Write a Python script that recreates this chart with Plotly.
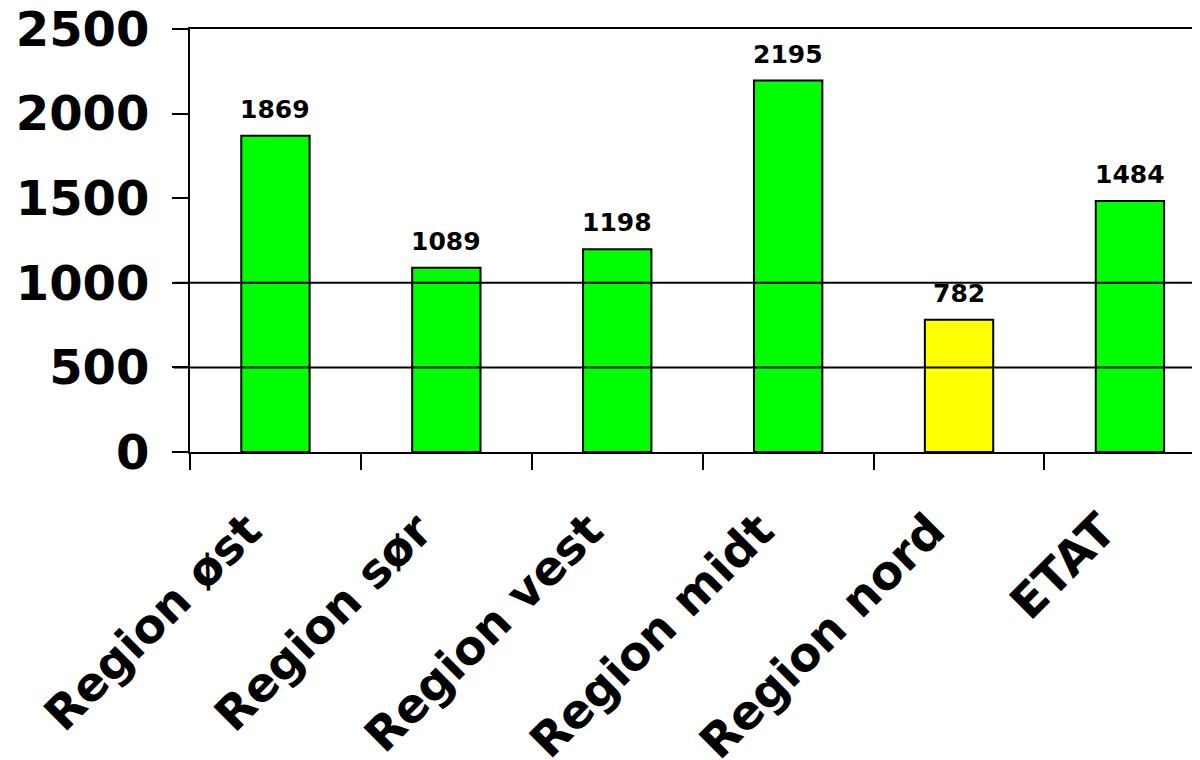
import plotly.graph_objects as go

categories = ["Region øst", "Region sør", "Region vest", "Region midt", "Region nord", "ETAT"]
values = [1869, 1089, 1198, 2195, 782, 1484]
bar_colors = ["#00FF00", "#00FF00", "#00FF00", "#00FF00", "#FFFF00", "#00FF00"]
y_ticks = [0, 500, 1000, 1500, 2000, 2500]
grid_values = [500, 1000]

FONT = "DejaVu Sans"

fig = go.Figure()
fig.add_trace(go.Bar(
    x=categories, y=values,
    marker=dict(color=bar_colors, line=dict(color="black", width=2)),
    width=0.4,
    hoverinfo="x+y",
))

for c, v in zip(categories, values):
    fig.add_annotation(x=c, y=v, text=f"<b>{v}</b>", showarrow=False,
                       yanchor="bottom", yshift=10,
                       font=dict(family=FONT, size=25, color="black"))

for g in grid_values:
    fig.add_shape(type="line", xref="paper", x0=-0.016, x1=1, yref="y", y0=g, y1=g,
                  line=dict(color="black", width=2), layer="above")

fig.update_layout(
    width=1192, height=752,
    margin=dict(l=182, r=0, t=21, b=308),
    plot_bgcolor="white", paper_bgcolor="white",
    showlegend=False,
    font=dict(family=FONT, color="black"),
    xaxis=dict(
        type="category",
        range=[-0.5, 5.41],
        automargin=False,
        tickson="boundaries",
        ticks="outside", ticklen=16, tickwidth=2, tickcolor="black",
        showline=True, linecolor="black", linewidth=2, mirror=True,
        showgrid=False,
        tickangle=-45,
        tickfont=dict(family=FONT, size=47, color="black", weight="bold"),
        ticklabelstandoff=30,
        ticklabelshift=-28,
        ticklabeloverflow="allow",
    ),
    yaxis=dict(
        range=[0, 2500],
        automargin=False,
        tickvals=y_ticks,
        ticks="outside", ticklen=16, tickwidth=2, tickcolor="black",
        showline=True, linecolor="black", linewidth=2,
        showgrid=False, zeroline=False,
        tickfont=dict(family=FONT, size=48, color="black", weight="bold"),
        ticklabelstandoff=13,
        ticklabeloverflow="allow",
    ),
)

fig.write_html("out.html")
